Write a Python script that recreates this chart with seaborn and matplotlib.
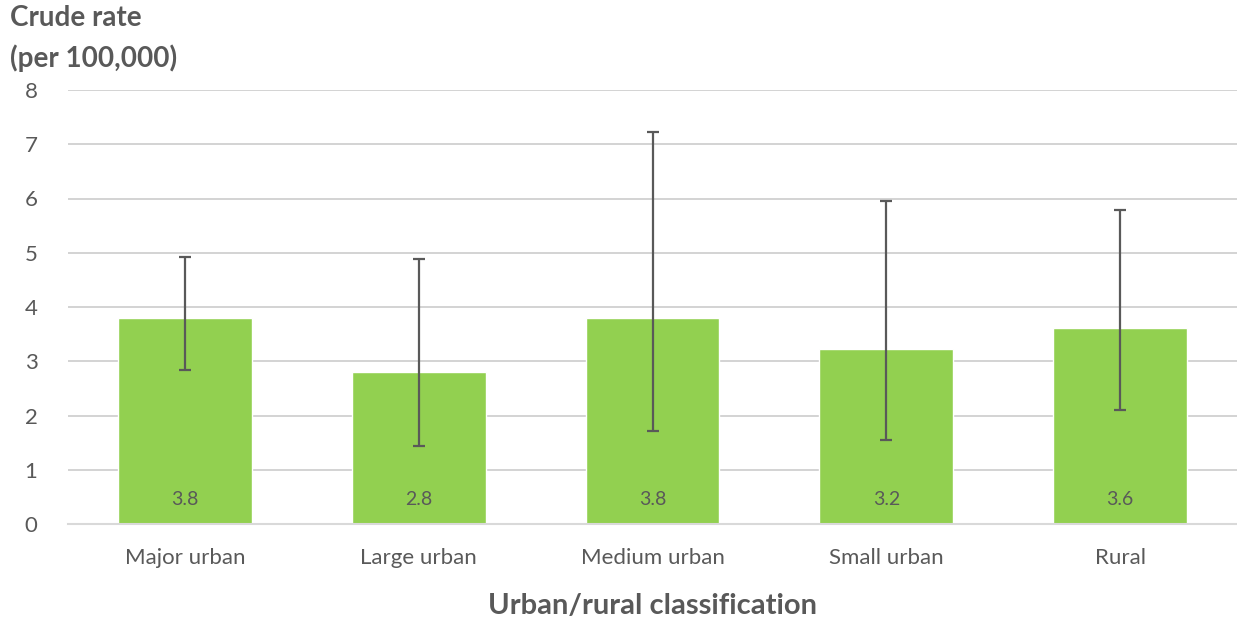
import pandas as pd
import numpy as np
import matplotlib.pyplot as plt
import seaborn as sns

# data
categories = ["Major urban", "Large urban", "Medium urban", "Small urban", "Rural"]
rates = [3.8, 2.8, 3.8, 3.23, 3.62]
ci_lower = [2.84, 1.44, 1.71, 1.55, 2.10]
ci_upper = [4.92, 4.88, 7.23, 5.95, 5.79]
rate_labels = ["3.8", "2.8", "3.8", "3.2", "3.6"]

df = pd.DataFrame({"classification": categories, "rate": rates})

sns.set_style("white")
plt.rcParams['font.family'] = ['Lato', 'DejaVu Sans']

grey = "#595959"
green = "#92D050"

fig = plt.figure(figsize=(12.37, 6.19), dpi=100)
ax = fig.add_axes([68 / 1237, 95 / 619, 1 - 68 / 1237, 434 / 619])

sns.barplot(data=df, x="classification", y="rate", color=green,
            saturation=1, width=0.573, errorbar=None, ax=ax, zorder=2)

#error bars
x = np.arange(len(categories))
yerr = [np.array(rates) - np.array(ci_lower), np.array(ci_upper) - np.array(rates)]
ax.errorbar(x, rates, yerr=yerr, fmt="none", ecolor=grey, elinewidth=1.6,
            capsize=4.3, capthick=1.6, zorder=3)

#value labels near bar bottom
for i, lab in enumerate(rate_labels):
    ax.text(i, 0.45, lab, ha="center", va="center", fontsize=14, color=grey, zorder=4)

ax.set_ylim(0, 8)
ax.set_xlim(-0.5, len(categories) - 0.5)
ax.set_yticks(range(0, 9))
ax.yaxis.grid(True, color="#c8c8c8", linewidth=1.1)
ax.set_axisbelow(True)
for s in ["top", "right", "left"]:
    ax.spines[s].set_visible(False)
ax.spines["bottom"].set_color("#d9d9d9")
ax.spines["bottom"].set_linewidth(1.5)
ax.tick_params(axis="y", labelsize=16, colors=grey, length=0, pad=22)
ax.tick_params(axis="x", labelsize=16, colors=grey, length=0, pad=17)

ax.set_ylabel("")
ax.set_xlabel("Urban/rural classification", fontsize=21, fontweight="bold",
              color=grey, labelpad=18)

fig.text(10 / 1237, 1 - 5 / 619, "Crude rate\n(per 100,000)", ha="left", va="top",
         fontsize=20, fontweight="bold", color=grey, linespacing=1.6)

fig.savefig("out.png", dpi=100)
